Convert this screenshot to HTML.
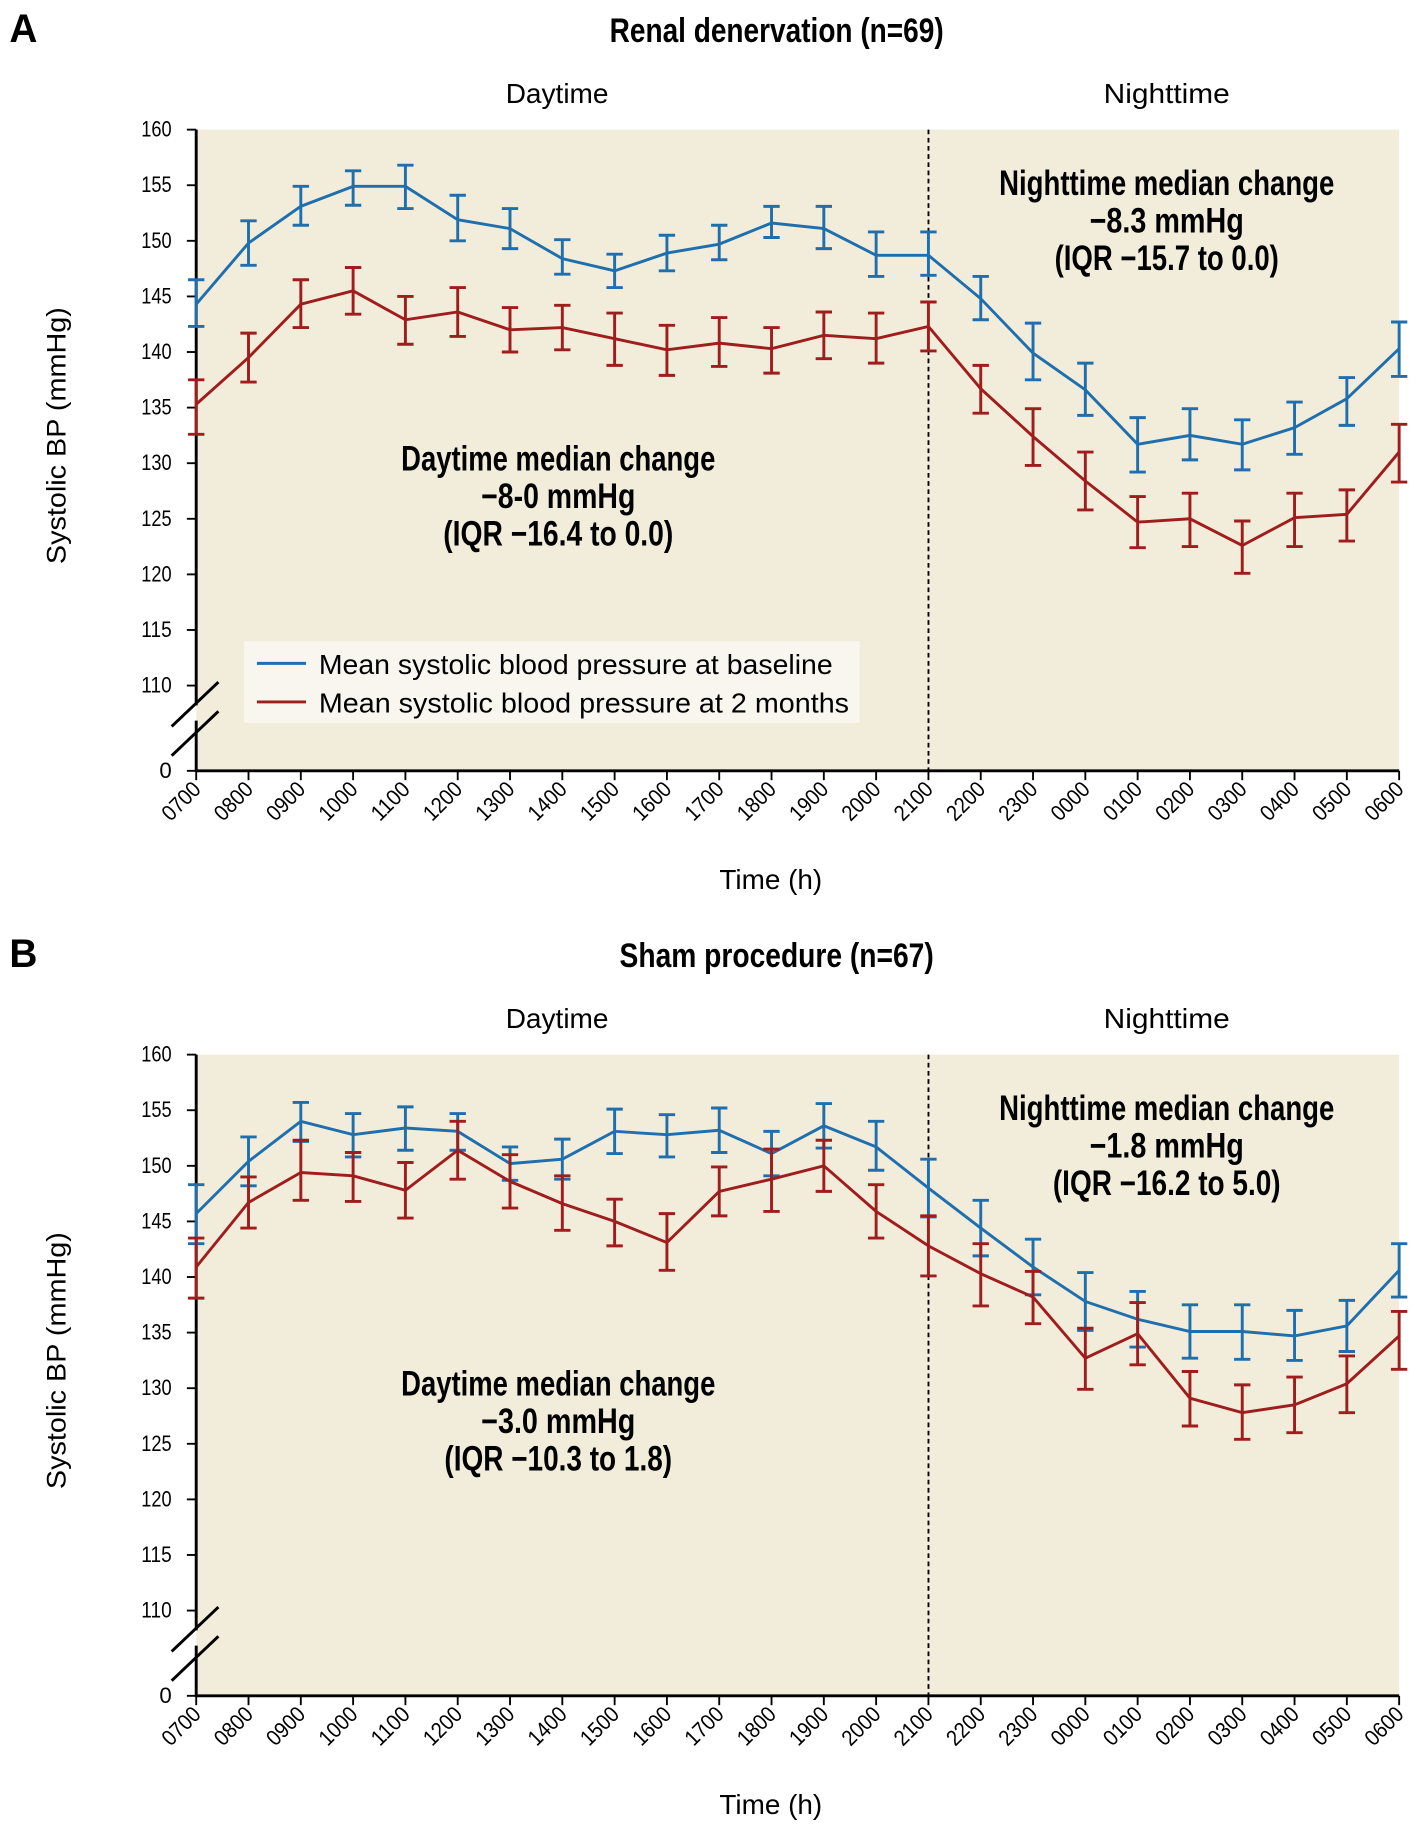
<!DOCTYPE html>
<html><head><meta charset="utf-8"><style>
html,body{margin:0;padding:0;background:#fff;}
svg{display:block;}
text{font-family:"Liberation Sans Narrow","Liberation Sans",sans-serif;}
.b{font-weight:bold;}
</style></head><body>
<svg id="s" width="1419" height="1825" viewBox="0 0 1215 1562.6" preserveAspectRatio="none" xmlns="http://www.w3.org/2000/svg"></svg>
<script>
const S=document.getElementById('s');let h='';
const X0=168,DX=(1198-168)/23;
const hrs=['0700','0800','0900','1000','1100','1200','1300','1400','1500','1600','1700','1800','1900','2000','2100','2200','2300','0000','0100','0200','0300','0400','0500','0600'];
const A={b:[[144.3,142.3,146.5],[149.8,147.8,151.8],[153.1,151.4,154.9],[154.9,153.2,156.3],[154.9,152.9,156.8],[151.9,150,154.1],[151.1,149.3,152.9],[148.4,147,150.1],[147.3,145.8,148.8],[148.9,147.3,150.5],[149.7,148.3,151.4],[151.6,150.3,153.1],[151.1,149.3,153.1],[148.7,146.8,150.8],[148.7,146.9,150.8],[144.8,142.9,146.8],[139.9,137.5,142.6],[136.6,134.3,139],[131.7,129.2,134.1],[132.5,130.3,134.9],[131.7,129.4,133.9],[133.2,130.8,135.5],[135.8,133.4,137.7],[140.3,137.8,142.7]],
r:[[135.3,132.6,137.5],[139.5,137.3,141.7],[144.3,142.2,146.5],[145.5,143.4,147.6],[142.9,140.7,145],[143.6,141.4,145.8],[142,140,144],[142.2,140.2,144.2],[141.2,138.8,143.5],[140.2,137.9,142.4],[140.8,138.7,143.1],[140.3,138.1,142.2],[141.5,139.4,143.6],[141.2,139,143.5],[142.3,140.1,144.5],[136.7,134.5,138.8],[132.4,129.8,134.9],[128.4,125.8,131],[124.7,122.4,127],[125,122.5,127.3],[122.6,120.1,124.8],[125.1,122.5,127.3],[125.4,123,127.6],[131,128.3,133.5]]};
const B={b:[[145.7,143,148.3],[150.4,148.2,152.6],[154,152.2,155.7],[152.8,150.8,154.7],[153.4,151.4,155.3],[153.1,151.4,154.7],[150.2,148.7,151.7],[150.6,148.8,152.4],[153.1,151.1,155.1],[152.8,150.8,154.6],[153.2,151.2,155.2],[151.1,149.1,153.1],[153.6,151.6,155.6],[151.7,149.6,154],[148,145.4,150.6],[144.4,141.9,146.9],[140.9,138.4,143.4],[137.8,135.2,140.4],[136.2,133.7,138.7],[135.1,132.7,137.5],[135.1,132.6,137.5],[134.7,132.5,137],[135.6,133.3,137.9],[140.6,138.2,143]],
r:[[140.9,138.1,143.5],[146.7,144.4,149],[149.4,146.9,152.3],[149.1,146.8,151.2],[147.8,145.3,150.3],[151.4,148.8,154],[148.6,146.2,151],[146.6,144.2,149.1],[145,142.8,147],[143.1,140.6,145.7],[147.7,145.5,149.9],[148.8,145.9,151.5],[150,147.7,152.3],[145.9,143.5,148.3],[142.8,140.1,145.5],[140.3,137.4,143],[138.2,135.8,140.5],[132.7,129.9,135.4],[134.9,132.1,137.7],[129.1,126.6,131.5],[127.8,125.4,130.3],[128.5,126,131],[130.4,127.8,132.9],[134.7,131.7,136.9]]};
const TL=(w)=>`textLength="${w}" lengthAdjust="spacingAndGlyphs"`;
function panel(o,letter,title,tw,d,day,dw,night,nw,legend){
 const T=111+o,Y=v=>T+(160-v)*9.52,Z=660+o;
 h+=`<text x="8" y="${36+o}" font-size="34" class="b" ${TL(24)}>${letter}</text>`;
 h+=`<text x="665" y="${36+o}" font-size="29" class="b" text-anchor="middle" ${TL(tw)}>${title}</text>`;
 h+=`<text x="477" y="${88+o}" font-size="24" text-anchor="middle" ${TL(88)}>Daytime</text><text x="999" y="${88+o}" font-size="24" text-anchor="middle" ${TL(108)}>Nighttime</text>`;
 h+=`<rect x="168" y="${T}" width="1030" height="${Z-T}" fill="#f2eddb"/>`;
 h+=`<line x1="795" y1="${T}" x2="795" y2="${Z}" stroke="#000" stroke-width="1.6" stroke-dasharray="4,3"/>`;
 h+=`<path d="M168 ${T} V${604+o} M168 ${617+o} V${Z+1} M168 ${Z} H1198" stroke="#000" stroke-width="2.5" fill="none"/>`;
 h+=`<path d="M147 ${622+o} L187 ${584+o} M147 ${647+o} L187 ${609+o}" stroke="#000" stroke-width="2.5"/>`;
 for(let v=110;v<=160;v+=5){const y=Y(v);h+=`<line x1="160" y1="${y}" x2="168" y2="${y}" stroke="#000" stroke-width="1.6"/><text x="147" y="${y+6}" font-size="19" text-anchor="end" ${TL(26)}>${v}</text>`;}
 h+=`<line x1="160" y1="${Z}" x2="168" y2="${Z}" stroke="#000" stroke-width="1.6"/><text x="147" y="${Z+6}" font-size="19" text-anchor="end">0</text>`;
 hrs.forEach((t,i)=>{const x=X0+i*DX;h+=`<line x1="${x}" y1="${Z}" x2="${x}" y2="${Z+8}" stroke="#000" stroke-width="1.6"/><text transform="translate(${x+5},${Z+17}) rotate(-45)" font-size="19" text-anchor="end" ${TL(38)}>${t}</text>`;});
 h+=`<text transform="translate(56,${373+o}) rotate(-90)" font-size="23" text-anchor="middle" ${TL(220)}>Systolic BP (mmHg)</text>`;
 h+=`<text x="660" y="${761+o}" font-size="24" text-anchor="middle" ${TL(88)}>Time (h)</text>`;
 [['b','#1f6fae'],['r','#a01d1d']].forEach(([k,c])=>{
  const pts=d[k].map((p,i)=>`${X0+i*DX},${Y(p[0])}`).join(' ');
  h+=`<polyline points="${pts}" fill="none" stroke="${c}" stroke-width="2.5"/>`;
  d[k].forEach((p,i)=>{const x=X0+i*DX;h+=`<path d="M${x} ${Y(p[1])} V${Y(p[2])} M${x-7} ${Y(p[1])} H${x+7} M${x-7} ${Y(p[2])} H${x+7}" stroke="${c}" stroke-width="2.5" fill="none"/>`;});
 });
 const at=(x,y,l,w)=>l.forEach((s,i)=>h+=`<text x="${x}" y="${y+i*32+o}" font-size="30" class="b" text-anchor="middle" ${TL(w[i])}>${s}</text>`);
 at(478,403,day,dw);at(999,167,night,nw);
 if(legend){h+=`<rect x="209" y="${549+o}" width="527" height="70" fill="#f8f6ee"/>`;
  h+=`<line x1="220" y1="${568+o}" x2="262" y2="${568+o}" stroke="#1f6fae" stroke-width="2.5"/><line x1="220" y1="${601+o}" x2="262" y2="${601+o}" stroke="#a01d1d" stroke-width="2.5"/>`;
  h+=`<text x="273" y="${577+o}" font-size="24" ${TL(440)}>Mean systolic blood pressure at baseline</text><text x="273" y="${610+o}" font-size="24" ${TL(454)}>Mean systolic blood pressure at 2 months</text>`;}
}
panel(0,'A','Renal denervation (n=69)',286,A,['Daytime median change','\u22128-0 mmHg','(IQR \u221216.4 to 0.0)'],[269,132,197],['Nighttime median change','\u22128.3 mmHg','(IQR \u221215.7 to 0.0)'],[287,132,192],true);
panel(792,'B','Sham procedure (n=67)',269,B,['Daytime median change','\u22123.0 mmHg','(IQR \u221210.3 to 1.8)'],[269,132,195],['Nighttime median change','\u22121.8 mmHg','(IQR \u221216.2 to 5.0)'],[287,132,195],false);
S.innerHTML=h;
</script>
</body></html>
